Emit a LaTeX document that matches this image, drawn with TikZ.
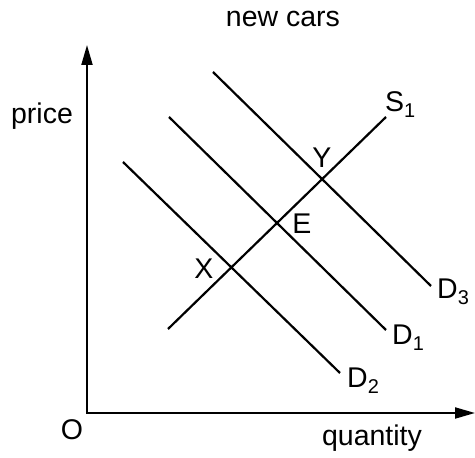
\documentclass[tikz,border=0pt]{standalone}
\usepackage{fontspec}
\setmainfont{Liberation Sans}
\usetikzlibrary{arrows.meta}

\begin{document}
\begin{tikzpicture}[x=1pt,y=1pt,
  curve/.style={line width=2.2pt},
  lab/.style={inner sep=0pt,anchor=base,font=\fontsize{28.5}{34}\selectfont},
  sublab/.style={lab,anchor=base west}]

% Frame
\useasboundingbox (-87,-45) rectangle (388,413);

% Axes
\draw[line width=2pt,{Triangle[length=20pt,width=11pt]}-{Triangle[length=20pt,width=11pt]}]
  (0,368) -- (0,0) -- (388,0);

% Supply
\coordinate (s0) at (81,84);
\coordinate (s1) at (299,296);
\draw[curve] (s0) -- (s1);

% Demand curves
\coordinate (d2a) at (36,251);
\coordinate (d2b) at (253,40);
\coordinate (d1a) at (82,296);
\coordinate (d1b) at (299,83);
\coordinate (d3a) at (126,341);
\coordinate (d3b) at (344,127);
\draw[curve] (d2a) -- (d2b);
\draw[curve] (d1a) -- (d1b);
\draw[curve] (d3a) -- (d3b);

% Axis labels
\node[lab] (title) at (196,386) {new cars};
\node[lab] (price) at (-45,289) {price};
\node[lab] (quantity) at (285,-33) {quantity};
\node[lab] (origin) at (-15,-27) {O};

% Curve labels
\node[sublab] (S1) at (298,301) {S\textsubscript{1}};
\node[sublab] (D3) at (350,114) {D\textsubscript{3}};
\node[sublab] (D1) at (305,68) {D\textsubscript{1}};
\node[sublab] (D2) at (260,25) {D\textsubscript{2}};

% Points
\node[lab] (Y) at (235,245) {Y};
\node[lab] (E) at (215,179) {E};
\node[lab] (X) at (117,134) {X};

\end{tikzpicture}
\end{document}
